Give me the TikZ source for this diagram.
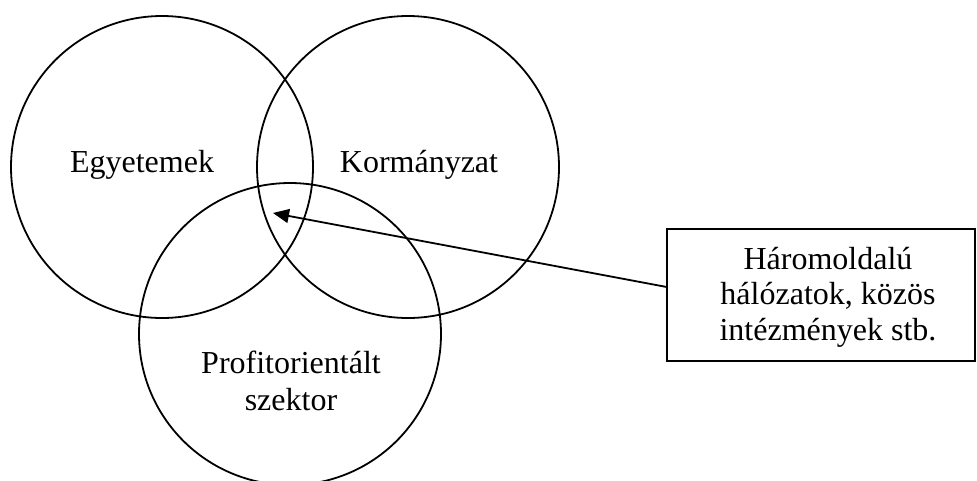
\documentclass[tikz,border=0pt]{standalone}
\usepackage{fontspec}
\setmainfont{Liberation Serif}
\usetikzlibrary{arrows.meta}
\begin{document}
\begin{tikzpicture}[x=1pt,y=-1pt,
  venn/.style={draw,circle,line width=1.8pt,minimum size=302pt,inner sep=0pt},
  lbl/.style={font=\fontsize{32}{36}\selectfont,inner sep=0pt,align=center},
  infobox/.style={draw,line width=1.8pt,minimum width=308pt,minimum height=132pt,inner sep=0pt},
  pointer/.style={line width=1.8pt,-{Triangle[length=16pt,width=14pt]}}]
\useasboundingbox (0,0) rectangle (977,480);
\node[venn] (egy) at (162,167) {};
\node[venn] (korm) at (408,167) {};
\node[venn] (prof) at (290,334) {};
\node[lbl,anchor=base] (tegy) at (142,172) {Egyetemek};
\node[lbl,anchor=base] (tkorm) at (419,172) {Kormányzat};
\node[lbl,font=\fontsize{32}{37}\selectfont] (tprof) at (291,381) {Profitorientált\\szektor};
\node[infobox] (box) at (821,295) {};
\node[lbl,font=\fontsize{32}{35.5}\selectfont] (tbox) at (828,297) {Háromoldalú\\hálózatok, közös\\intézmények stb.};
\coordinate (tip) at (273,213);
\draw[pointer] (box.177.4) -- (tip);
\end{tikzpicture}
\end{document}
